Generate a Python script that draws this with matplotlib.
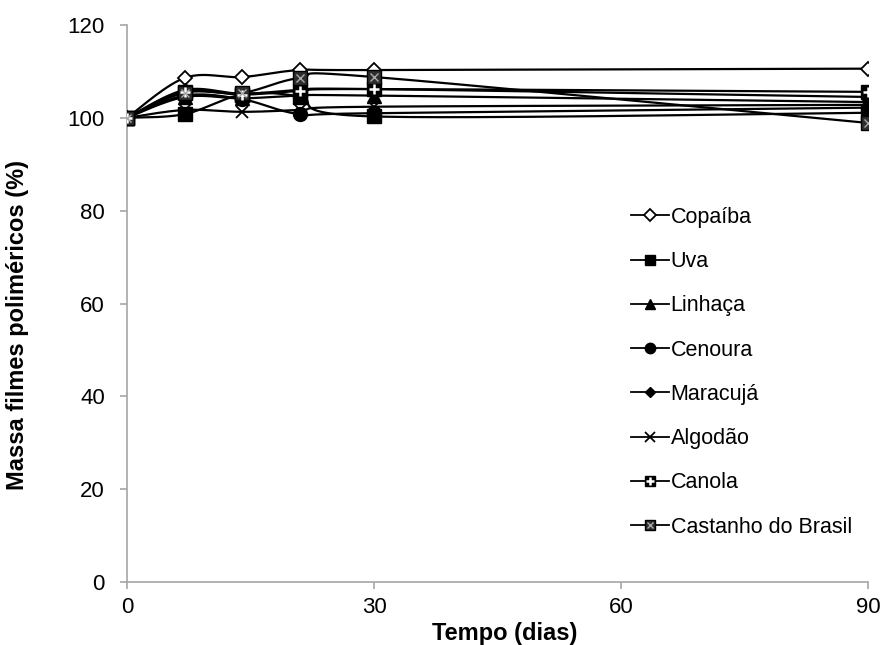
import numpy as np
import matplotlib
matplotlib.use("Agg")
import matplotlib.pyplot as plt
from matplotlib.lines import Line2D

plt.rcParams['font.family'] = ['Liberation Sans', 'DejaVu Sans']

dias = [0, 7, 14, 21, 30, 90]
copaiba = [100, 108.6, 108.8, 110.3, 110.3, 110.6]
uva = [100, 100.8, 105.0, 104.6, 100.3, 101.1]
linhaca = [100, 104.5, 104.2, 104.8, 104.8, 103.4]
cenoura = [100, 104.8, 104.0, 100.8, 101.0, 102.2]
maracuja = [100, 106.0, 105.2, 106.0, 106.2, 104.5]
algodao = [100, 101.7, 101.3, 101.7, 102.4, 102.8]
canola = [100, 105.6, 105.0, 105.8, 106.2, 105.6]
castanho = [100, 105.4, 105.4, 108.6, 108.8, 98.9]

series_names = ['Copaíba', 'Uva', 'Linhaça', 'Cenoura', 'Maracujá', 'Algodão',
                'Canola', 'Castanho do Brasil']
series_vals = [copaiba, uva, linhaca, cenoura, maracuja, algodao, canola, castanho]


def smooth(x, y, n=30):
    # Excel-like smoothed line (Catmull-Rom Bezier through points)
    x = np.asarray(x, float)
    y = np.asarray(y, float)
    P = np.column_stack([x, y])
    out = []
    for i in range(len(P) - 1):
        p0 = P[i - 1] if i > 0 else P[i]
        p1 = P[i]
        p2 = P[i + 1]
        p3 = P[i + 2] if i + 2 < len(P) else P[i + 1]
        c1 = p1 + (p2 - p0) / 6.0
        c2 = p2 - (p3 - p1) / 6.0
        t = np.linspace(0, 1, n)[:, None]
        b = ((1 - t) ** 3) * p1 + 3 * ((1 - t) ** 2) * t * c1 + 3 * (1 - t) * t ** 2 * c2 + t ** 3 * p2
        out.append(b if i == 0 else b[1:])
    B = np.vstack(out)
    return B[:, 0], B[:, 1]


fig = plt.figure(figsize=(8.85, 6.45), dpi=100)
ax = fig.add_axes([0.1435, 0.0977, 0.8375, 0.8635])

ms = 10
styles = {
    'Copaíba': dict(marker='D', mfc='white', mec='black', ms=ms - 2.5, mew=1.3),
    'Uva': dict(marker='s', mfc='black', mec='black', ms=ms),
    'Linhaça': dict(marker='^', mfc='black', mec='black', ms=ms),
    'Cenoura': dict(marker='o', mfc='black', mec='black', ms=ms),
    'Maracujá': dict(marker='D', mfc='black', mec='black', ms=ms - 3),
    'Algodão': dict(marker='x', mfc='black', mec='black', ms=ms - 1, mew=1.3),
    'Canola': dict(marker='s', mfc='black', mec='black', ms=ms),
    'Castanho do Brasil': dict(marker='s', mfc='#2e2e2e', mec='black', ms=ms),
}
overlay = {
    'Canola': dict(marker='+', mec='white', ms=ms - 2.5, mew=1.8),
    'Castanho do Brasil': dict(marker='x', mec='#aaaaaa', ms=ms - 4, mew=1.0),
}

leg_styles = {}
for k, v in styles.items():
    d = dict(v)
    d['ms'] = v['ms'] * 0.75
    leg_styles[k] = d
leg_overlay = {}
for k, v in overlay.items():
    d = dict(v)
    d['ms'] = v['ms'] * 0.75
    leg_overlay[k] = d

handles = []
for name, vals in zip(series_names, series_vals):
    sx, sy = smooth(dias, vals)
    ax.plot(sx, sy, color='black', lw=1.6, zorder=2)
    st = styles[name]
    ax.plot(dias, vals, ls='none', zorder=3, **st)
    h = Line2D([], [], color='black', lw=1.3, **leg_styles[name])
    if name in overlay:
        ov = overlay[name]
        ax.plot(dias, vals, ls='none', zorder=4, **ov)
        h2 = Line2D([], [], ls='none', **leg_overlay[name])
        handles.append((h, h2))
    else:
        handles.append(h)

ax.set_xlim(0, 90)
ax.set_ylim(0, 120)
ax.set_xticks([0, 30, 60, 90])
ax.set_yticks(np.arange(0, 121, 20))
for s in ['top', 'right']:
    ax.spines[s].set_visible(False)
for s in ['left', 'bottom']:
    ax.spines[s].set_color('#a6a6a6')
    ax.spines[s].set_linewidth(1.2)
ax.tick_params(axis='both', labelsize=16, color='#a6a6a6', length=5, width=1.2,
               direction='out')
ax.tick_params(axis='x', pad=6)
ax.tick_params(axis='y', pad=11)
ax.set_xlabel('Tempo (dias)', fontsize=17, fontweight='bold')
ax.set_ylabel('Massa filmes poliméricos (%)', fontsize=17, fontweight='bold')
ax.xaxis.set_label_coords(0.510, -0.0718)
ax.yaxis.set_label_coords(-0.132, 0.462)

leg = ax.legend(handles, series_names, loc='upper left', bbox_to_anchor=(0.668, 0.689),
                frameon=False, fontsize=15.5, handlelength=1.77, handletextpad=0.08,
                labelspacing=1.08, borderaxespad=0)

fig.savefig('out.png', dpi=100)
